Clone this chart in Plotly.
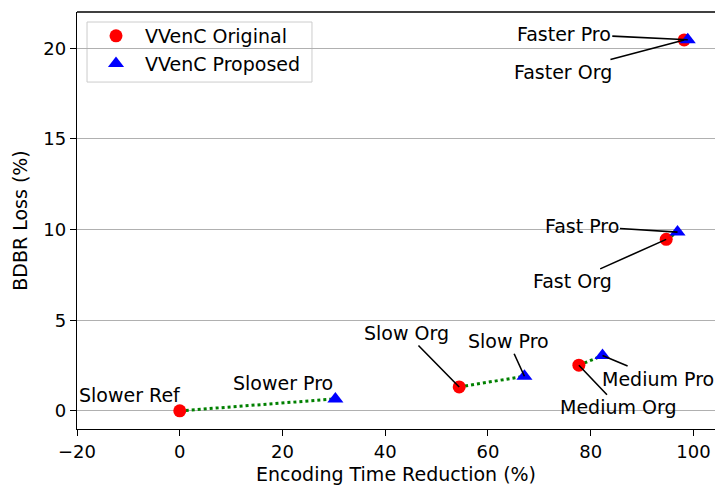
import plotly.graph_objects as go

# ---- data ----
modes = ["Slower", "Slow", "Medium", "Fast", "Faster"]
org_x = [0.0, 54.4, 77.7, 94.7, 98.2]
org_y = [0.0, 1.32, 2.52, 9.46, 20.46]
pro_x = [30.3, 67.1, 82.3, 96.9, 98.9]
pro_y = [0.66, 1.91, 3.05, 9.86, 20.47]

org_labels = ["Slower Ref", "Slow Org", "Medium Org", "Fast Org", "Faster Org"]
pro_labels = ["Slower Pro", "Slow Pro", "Medium Pro", "Fast Pro", "Faster Pro"]

x_ticks = [-20, 0, 20, 40, 60, 80, 100]
x_tick_text = ["\u221220", "0", "20", "40", "60", "80", "100"]
y_ticks = [0, 5, 10, 15, 20]
y_tick_text = ["0", "5", "10", "15", "20"]

FONT = "DejaVu Sans"
FS = 19

fig = go.Figure()

# dotted connectors
for i in range(len(modes)):
    fig.add_trace(go.Scatter(
        x=[org_x[i], pro_x[i]], y=[org_y[i], pro_y[i]],
        mode="lines", line=dict(color="green", width=3, dash="dot"),
        showlegend=False, hoverinfo="skip"))

fig.add_trace(go.Scatter(
    x=org_x, y=org_y, mode="markers", name="VVenC Original",
    marker=dict(symbol="circle", color="red", size=13, line=dict(width=0))))
fig.add_trace(go.Scatter(
    x=pro_x, y=pro_y, mode="markers", name="VVenC Proposed",
    marker=dict(symbol="triangle-up", color="blue", size=14, line=dict(width=0))))

# annotation offsets (pixels): (ax, ay) ; None -> plain text shift
org_offsets = [None, (-53, -54), (40, 42), (-94, 42), (-121, 32)]
pro_offsets = [None, (-16, -35), (55, 23), (-96, -6), (-124, -6)]
org_shift = (-50, 16)
pro_shift = (-52, 16)

def add_labels(xs, ys, labels, offsets, shift):
    for xv, yv, lab, off in zip(xs, ys, labels, offsets):
        if off is None:
            fig.add_annotation(x=xv, y=yv, text=lab, showarrow=False,
                               xshift=shift[0], yshift=shift[1],
                               font=dict(family=FONT, size=FS, color="black"))
        else:
            fig.add_annotation(x=xv, y=yv, text=lab, showarrow=True,
                               ax=off[0], ay=off[1], arrowhead=0,
                               arrowwidth=1.6, arrowcolor="black", standoff=0,
                               font=dict(family=FONT, size=FS, color="black"))

add_labels(org_x, org_y, org_labels, org_offsets, org_shift)
add_labels(pro_x, pro_y, pro_labels, pro_offsets, pro_shift)

# top spine
fig.add_shape(type="line", xref="paper", yref="paper", x0=0, x1=1, y0=1, y1=1,
              line=dict(color="black", width=1.3), layer="above")

# legend frame (drawn as a shape so its size can match)
fig.add_shape(type="rect", xref="paper", yref="paper",
              x0=0.0157, x1=0.3683, y0=0.832, y1=0.976,
              line=dict(color="#cccccc", width=1),
              fillcolor="rgba(255,255,255,0.8)", layer="between")

fig.update_layout(
    width=715, height=486,
    margin=dict(l=77, r=0, t=12, b=57),
    paper_bgcolor="white", plot_bgcolor="white",
    font=dict(family=FONT, size=FS, color="black"),
    showlegend=True,
    legend=dict(x=0.0157, y=0.988, xanchor="left", yanchor="top",
                bgcolor="rgba(0,0,0,0)", borderwidth=0, itemwidth=48,
                font=dict(family=FONT, size=FS)),
    xaxis=dict(range=[-20, 104.2], tickmode="array", tickvals=x_ticks,
               ticktext=x_tick_text, ticks="outside", ticklen=6,
               tickcolor="black", tickwidth=1.3, showline=True,
               linecolor="black", linewidth=1.3, showgrid=False,
               tickfont=dict(size=18),
               zeroline=False, title=dict(text="Encoding Time Reduction (%)",
                                          font=dict(size=19), standoff=6)),
    yaxis=dict(range=[-1, 22], tickmode="array", tickvals=y_ticks,
               ticktext=y_tick_text, ticks="outside", ticklen=6,
               tickcolor="black", tickwidth=1.3, showline=True,
               linecolor="black", linewidth=1.3, showgrid=True,
               tickfont=dict(size=18),
               gridcolor="#b0b0b0", gridwidth=1, zeroline=False,
               title=dict(text="BDBR Loss (%)", font=dict(size=19), standoff=10)),
)

fig.write_html("out.html")
